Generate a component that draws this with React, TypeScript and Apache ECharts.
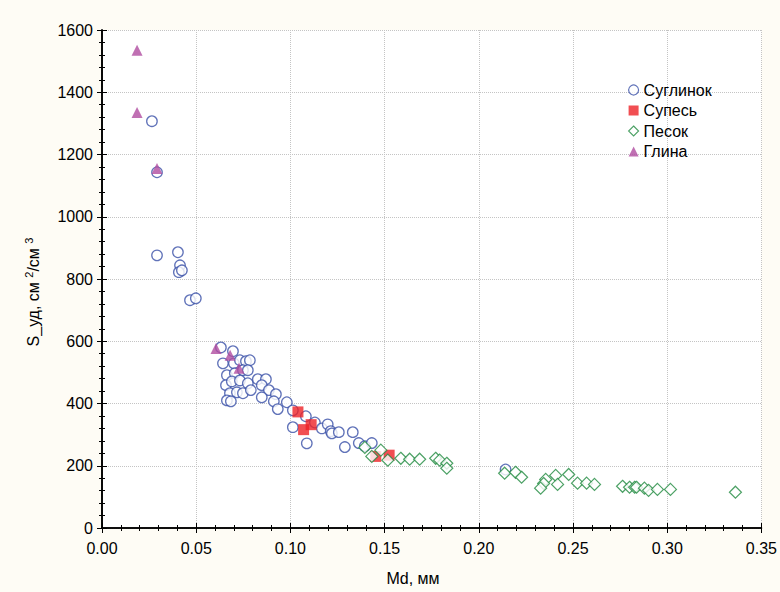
import React, { useEffect, useRef } from "react";
import * as echarts from "echarts";

const suglinok: number[][] = [
  [0.0265, 1307], [0.0292, 1143], [0.0292, 876], [0.0403, 886], [0.0414, 844],
  [0.0408, 822], [0.0424, 828], [0.0467, 732], [0.0498, 738], [0.0631, 580],
  [0.0695, 568], [0.0642, 529], [0.070, 529], [0.0732, 539], [0.0764, 536],
  [0.0785, 539], [0.0663, 491], [0.0705, 497], [0.0748, 507], [0.0774, 507],
  [0.0658, 459], [0.0689, 471], [0.0732, 474], [0.0774, 465], [0.0827, 478],
  [0.087, 478], [0.0848, 459], [0.0679, 433], [0.0716, 436], [0.0748, 433],
  [0.079, 443], [0.0886, 443], [0.0663, 410], [0.0684, 407], [0.0848, 420],
  [0.0923, 430], [0.0912, 407], [0.0981, 404], [0.0933, 382], [0.1013, 378],
  [0.1082, 359], [0.1013, 324], [0.1087, 272], [0.113, 339], [0.1167, 320],
  [0.1198, 333], [0.1214, 311], [0.122, 304], [0.1257, 308], [0.1331, 308],
  [0.1289, 260], [0.1363, 273], [0.1395, 263], [0.1432, 273], [0.2142, 188],
];

const supes: number[][] = [
  [0.104, 373], [0.107, 316], [0.111, 332], [0.1453, 230], [0.1524, 234],
];

const pesok: number[][] = [
  [0.1395, 259], [0.1432, 230], [0.148, 250], [0.1517, 218], [0.1586, 224],
  [0.1633, 221], [0.1686, 221], [0.1771, 224], [0.1792, 218], [0.183, 208],
  [0.183, 192], [0.2137, 176], [0.2195, 179], [0.2227, 163], [0.2355, 156],
  [0.2344, 143], [0.2328, 128], [0.2408, 169], [0.2418, 140], [0.2477, 172],
  [0.2524, 144], [0.2572, 144], [0.2614, 140], [0.2763, 134], [0.28, 131],
  [0.2827, 131], [0.2837, 131], [0.2879, 128], [0.2901, 121], [0.2948, 124],
  [0.3017, 124], [0.3362, 115],
];

const glina: number[][] = [
  [0.0186, 1535], [0.0186, 1335], [0.0292, 1155], [0.0605, 577], [0.068, 555], [0.0727, 513],
];

const seriesNames = ["Суглинок", "Супесь", "Песок", "Глина"];
const xTitle = "Md, мм";

const FONT = "'Liberation Sans', Arial, sans-serif";

export default function App() {
  const ref = useRef<HTMLDivElement>(null);
  useEffect(() => {
    document.body.style.margin = "0";
    const chart = echarts.init(ref.current!, null, { renderer: "svg" });
    const axisLine = { show: true, lineStyle: { color: "#000", width: 1.6 } };
    const tick = { show: true, inside: true, length: 5, lineStyle: { color: "#000", width: 1 } };
    const minor = { show: true, splitNumber: 5, length: 3, lineStyle: { color: "#000", width: 1 } };
    const split = { show: true, lineStyle: { color: "#c4c4c4", type: "dotted", width: 1 } };
    const label = { color: "#000", fontSize: 16, fontFamily: FONT };
    chart.setOption({
      animation: false,
      backgroundColor: "#fefcf5",
      textStyle: { fontFamily: FONT },
      grid: { left: 102, right: 18, top: 30, bottom: 64, show: true, backgroundColor: "#fff", borderWidth: 0 },
      xAxis: [
        {
          type: "value", min: 0, max: 0.35, interval: 0.05, position: "bottom",
          axisLine, axisTick: tick, minorTick: minor, splitLine: split,
          axisLabel: { ...label, margin: 12, formatter: (v: number) => v.toFixed(2) },
        },
        {
          type: "value", min: 0, max: 0.35, interval: 0.05, position: "top",
          axisLine, axisTick: tick, minorTick: minor, splitLine: { show: false },
          axisLabel: { show: false },
        },
      ],
      yAxis: [
        {
          type: "value", min: 0, max: 1600, interval: 200, position: "left",
          axisLine, axisTick: tick, minorTick: minor, splitLine: split,
          axisLabel: { ...label, margin: 9, formatter: (v: number) => String(v) },
        },
        {
          type: "value", min: 0, max: 1600, interval: 200, position: "right",
          axisLine, axisTick: tick, minorTick: minor, splitLine: { show: false },
          axisLabel: { show: false },
        },
      ],
      legend: {
        orient: "vertical", left: 623, top: 77, itemWidth: 10, itemHeight: 10, itemGap: 4.5,
        textStyle: { color: "#000", fontSize: 16, fontFamily: FONT },
        data: [
          { name: seriesNames[0], itemStyle: { borderWidth: 1.2 } },
          { name: seriesNames[1] },
          { name: seriesNames[2], itemStyle: { borderWidth: 1.1 } },
          { name: seriesNames[3] },
        ],
      },
      graphic: [
        {
          type: "text", x: 413, y: 578,
          style: { text: xTitle, fill: "#000", font: `16px ${FONT}`, align: "center", verticalAlign: "middle" },
        },
        {
          type: "text", x: 33, y: 292, rotation: Math.PI / 2,
          style: {
            text: "{a|S_уд, см }{s|2}{a|/см }{s|3}",
            fill: "#000", align: "center", verticalAlign: "middle",
            rich: {
              a: { fontSize: 16, fontFamily: FONT, fill: "#000" },
              s: { fontSize: 11, fontFamily: FONT, fill: "#000", verticalAlign: "top", padding: [0, 0, 8, 0] },
            },
          },
        },
      ],
      series: [
        {
          name: seriesNames[0], type: "scatter", data: suglinok, symbol: "circle", symbolSize: 10.5,
          itemStyle: { color: "#fff", borderColor: "#3a50a8", borderWidth: 1.3 },
        },
        {
          name: seriesNames[1], type: "scatter", data: supes, symbol: "rect", symbolSize: 11,
          itemStyle: { color: "#ee2227" },
        },
        {
          name: seriesNames[2], type: "scatter", data: pesok, symbol: "diamond", symbolSize: 12,
          itemStyle: { color: "#fff", borderColor: "#1f8a3e", borderWidth: 1.2 },
        },
        {
          name: seriesNames[3], type: "scatter", data: glina, symbol: "triangle", symbolSize: 11,
          itemStyle: { color: "#b04ca0" },
        },
      ],
    });
    return () => chart.dispose();
  }, []);
  return <div ref={ref} style={{ width: 780, height: 592 }} />;
}
